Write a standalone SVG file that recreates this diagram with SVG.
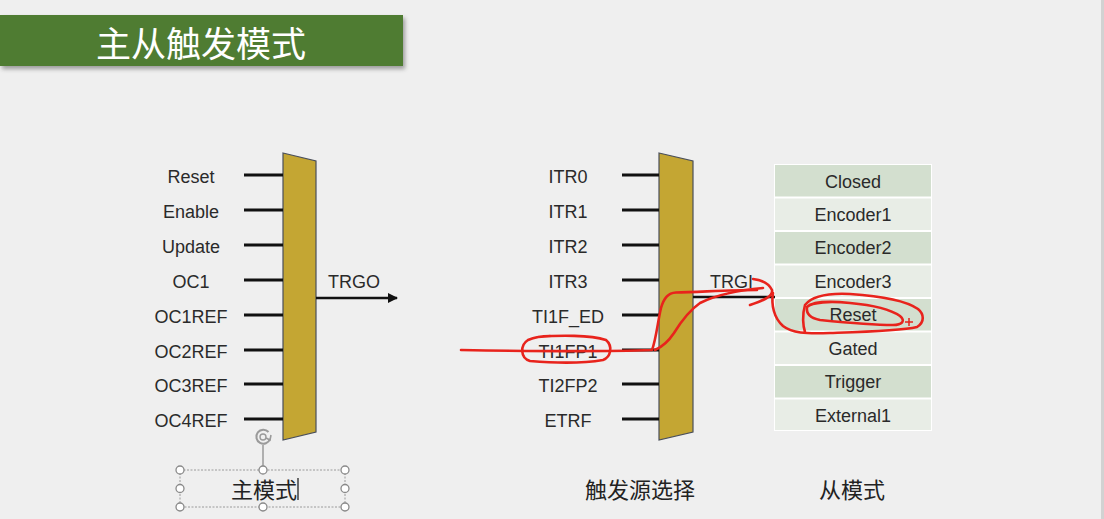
<svg xmlns="http://www.w3.org/2000/svg" width="1104" height="519" viewBox="0 0 1104 519">
<defs>
<style>
.lbl{font-family:"Liberation Sans","Noto Sans CJK SC",sans-serif;font-size:18px;fill:#2a2a2a}
.cjk{font-family:"Noto Sans CJK SC","Liberation Sans",sans-serif;font-size:22px;fill:#222}
.pin{stroke:#111;stroke-width:3}
.mux{fill:#c4a633;stroke:#4a4f5a;stroke-width:1.2}
.rowD{fill:#d3dfcf}
.rowL{fill:#e8ede6}
.red{fill:none;stroke:#e8231c;stroke-width:2.6;stroke-linecap:round;stroke-linejoin:round}
.hdl{fill:#fff;stroke:#8a8a8a;stroke-width:1.3}
</style>
<marker id="arr" markerWidth="10" markerHeight="10" refX="9" refY="5" orient="auto" markerUnits="userSpaceOnUse">
<path d="M0,0 L10,5 L0,10 z" fill="#111"/>
</marker>
<filter id="sh" x="-5%" y="-20%" width="110%" height="150%">
<feDropShadow dx="2" dy="3" stdDeviation="2" flood-color="#000" flood-opacity="0.35"/>
</filter>
</defs>
<rect width="1104" height="519" fill="#efefef"/>
<rect x="1101" y="0" width="3" height="519" fill="#d2d2d2"/>

<g id="title">
<rect x="0" y="15" width="403" height="51" fill="#507c32" filter="url(#sh)"/>
<text x="201" y="57" font-family="Noto Sans CJK SC, sans-serif" font-size="35" fill="#fff" text-anchor="middle">主从触发模式</text>
</g>

<g id="master-mux">
<polygon class="mux" points="283,153 316,161 316,432 283,440"/>
<g class="pin">
<line x1="244" y1="175" x2="283" y2="175"/>
<line x1="244" y1="210" x2="283" y2="210"/>
<line x1="244" y1="245" x2="283" y2="245"/>
<line x1="244" y1="280" x2="283" y2="280"/>
<line x1="244" y1="315" x2="283" y2="315"/>
<line x1="244" y1="350" x2="283" y2="350"/>
<line x1="244" y1="384" x2="283" y2="384"/>
<line x1="244" y1="419" x2="283" y2="419"/>
</g>
<g class="lbl" text-anchor="middle">
<text x="191" y="183">Reset</text>
<text x="191" y="218">Enable</text>
<text x="191" y="253">Update</text>
<text x="191" y="288">OC1</text>
<text x="191" y="323">OC1REF</text>
<text x="191" y="358">OC2REF</text>
<text x="191" y="392">OC3REF</text>
<text x="191" y="427">OC4REF</text>
</g>
</g>

<g id="trigger-mux">
<polygon class="mux" points="659,153 693,161 693,432 659,440"/>
<g class="pin">
<line x1="622" y1="175" x2="659" y2="175"/>
<line x1="622" y1="210" x2="659" y2="210"/>
<line x1="622" y1="245" x2="659" y2="245"/>
<line x1="622" y1="280" x2="659" y2="280"/>
<line x1="622" y1="315" x2="659" y2="315"/>
<line x1="622" y1="350" x2="659" y2="350"/>
<line x1="622" y1="384" x2="659" y2="384"/>
<line x1="622" y1="419" x2="659" y2="419"/>
</g>
<g class="lbl" text-anchor="middle">
<text x="568" y="183">ITR0</text>
<text x="568" y="218">ITR1</text>
<text x="568" y="253">ITR2</text>
<text x="568" y="288">ITR3</text>
<text x="568" y="323">TI1F_ED</text>
<text x="568" y="358">TI1FP1</text>
<text x="568" y="392">TI2FP2</text>
<text x="568" y="427">ETRF</text>
</g>
</g>

<g id="slave-modes">
<rect x="774" y="164" width="158" height="267" fill="#fff"/>
<rect class="rowD" x="775" y="165" width="156" height="31.5"/>
<rect class="rowL" x="775" y="198.5" width="156" height="31.5"/>
<rect class="rowD" x="775" y="232" width="156" height="31.5"/>
<rect class="rowL" x="775" y="265.5" width="156" height="31.5"/>
<rect class="rowD" x="775" y="299" width="156" height="31.5"/>
<rect class="rowL" x="775" y="332.5" width="156" height="31.5"/>
<rect class="rowD" x="775" y="366" width="156" height="31.5"/>
<rect class="rowL" x="775" y="399.5" width="156" height="30.5"/>
<g class="lbl" text-anchor="middle">
<text x="853" y="188">Closed</text>
<text x="853" y="221">Encoder1</text>
<text x="853" y="254">Encoder2</text>
<text x="853" y="288">Encoder3</text>
<text x="853" y="321">Reset</text>
<text x="853" y="355">Gated</text>
<text x="853" y="388">Trigger</text>
<text x="853" y="422">External1</text>
</g>
</g>

<g id="connectors">
<line x1="316" y1="298" x2="397" y2="298" stroke="#111" stroke-width="2.5" marker-end="url(#arr)"/>
<text class="lbl" x="328" y="288">TRGO</text>
<line x1="693" y1="297" x2="775" y2="297" stroke="#111" stroke-width="2.5"/>
<text class="lbl" x="710" y="288">TRGI</text>
</g>

<g id="captions">
<text class="cjk" x="264" y="498" text-anchor="middle">主模式</text>
<text class="cjk" x="640" y="498" text-anchor="middle">触发源选择</text>
<text class="cjk" x="852" y="498" text-anchor="middle">从模式</text>
</g>

<g id="selection">
<rect x="180" y="470" width="165" height="37" fill="none" stroke="#9a9a9a" stroke-width="1" stroke-dasharray="2,1.5"/>
<line x1="263" y1="445" x2="263" y2="466" stroke="#9a9a9a" stroke-width="1.5"/>
<path d="M268.5,432 A7,7 0 1 0 270,439" fill="none" stroke="#9a9a9a" stroke-width="2"/>
<path d="M271,435 L270,440 L266,438" fill="none" stroke="#9a9a9a" stroke-width="1.6"/>
<circle cx="263" cy="437" r="3" fill="none" stroke="#9a9a9a" stroke-width="1.4"/>
<circle class="hdl" cx="180" cy="470" r="4"/>
<circle class="hdl" cx="263" cy="470" r="4"/>
<circle class="hdl" cx="345" cy="470" r="4"/>
<circle class="hdl" cx="180" cy="488.5" r="4"/>
<circle class="hdl" cx="345" cy="488.5" r="4"/>
<circle class="hdl" cx="180" cy="507" r="4"/>
<circle class="hdl" cx="263" cy="507" r="4"/>
<circle class="hdl" cx="345" cy="507" r="4"/>
<line x1="298" y1="478" x2="298" y2="500" stroke="#111" stroke-width="1.2"/>
</g>

<g id="annotations">
<path class="red" d="M461,350 C520,351 600,352 652,350 C656,340 658,320 661,308 C664,298 668,293 676,292.5 C700,292 730,290 757,290"/>
<path class="red" d="M655,350 C662,347 668,342 674,333 C682,320 690,310 700,303 C712,297 730,291 763,288"/>
<path class="red" d="M753,279 C762,280 769,284 772,290 C773,296 765,300 750,305"/>
<path class="red" d="M773,293 C771,305 774,318 783,326 C792,333 805,334 830,333 C860,332 900,331 917,327 C925,322 924,314 918,309 C905,300 880,296 850,294 C830,293 812,296 805,305 C802,315 803,326 805,332"/>
<path class="red" d="M807,307 C812,302 830,301 850,303 C872,305 890,309 900,316 C906,321 902,325 893,325 C870,325 840,322 820,320 C810,318 806,313 807,307"/>
<path class="red" d="M538,337 C560,335 590,335 606,340 C613,346 611,357 603,360 C585,363 555,363 530,361 C520,358 520,345 528,340 C535,337 545,336 550,336"/>
<path d="M905,322 L913,322 M909,318 L909,326" stroke="#e8231c" stroke-width="1.5" fill="none"/>
</g>
</svg>
